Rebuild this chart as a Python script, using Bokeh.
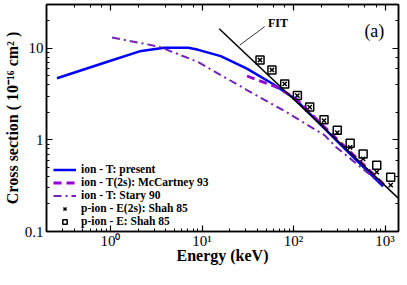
from bokeh.plotting import figure
from bokeh.models import LogAxis, LogTicker, Legend, LegendItem, Label, Range1d, CustomJSTickFormatter
from bokeh.embed import file_html
from bokeh.resources import INLINE

# ---- data ----
present_E = [0.26, 1.0, 2.08, 3.85, 7.1, 9.1, 16, 30.9, 59, 105, 304, 950]
present_S = [4.7, 7.3, 9.25, 10.1, 10.1, 9.6, 8.2, 6.0, 4.1, 2.77, 0.95, 0.31]

mccartney_E = [31, 64.5, 105, 200, 400, 700, 1000]
mccartney_S = [4.97, 3.78, 2.85, 1.5, 0.77, 0.45, 0.315]

stary_E = [1.04, 3.4, 9.1, 30.9, 82, 219, 292, 476, 843]
stary_S = [13.1, 10.4, 7.05, 3.5, 2.03, 1.12, 0.83, 0.56, 0.35]

fit_E = [15.4, 1400]
fit_S = [16.3, 0.23]

shah_E = [43, 58, 80, 110, 150, 215, 300, 415, 575, 810, 1150]
shah_total_S = [7.44, 5.79, 4.08, 3.04, 2.28, 1.66, 1.27, 0.92, 0.70, 0.53, 0.39]
shah_2s_S = [7.44, 5.79, 4.08, 3.04, 2.28, 1.62, 1.2, 0.83, 0.62, 0.445, 0.32]

x_tick_values = [1, 10, 100, 1000]
x_tick_labels = ["10\u2070", "10\u00b9", "10\u00b2", "10\u00b3"]
y_tick_values = [0.1, 1, 10]
y_tick_labels = ["0.1", "1", "10"]

legend_labels = ["ion - T: present", "ion - T(2s): McCartney 93", "ion - T: Stary 90",
                 "p-ion - E(2s): Shah 85", "p-ion - E: Shah 85"]

SERIF = "Liberation Serif"
BLUE = "#0000ff"
VIOLET = "#9400d3"
INDIGO = "#7221bc"

p = figure(frame_width=352, frame_height=227, x_axis_type="log", y_axis_type="log",
           x_range=Range1d(0.2, 1400), y_range=Range1d(0.1, 30),
           output_backend="svg", toolbar_location=None,
           min_border_left=36, min_border_right=0, min_border_top=0, min_border_bottom=20)
p.grid.visible = False
p.outline_line_color = "black"
p.outline_line_width = 1.5
p.background_fill_color = "white"
p.border_fill_color = "white"

for ax in (p.xaxis[0], p.yaxis[0]):
    ax.major_tick_in = 6
    ax.major_tick_out = 0
    ax.minor_tick_in = 3
    ax.minor_tick_out = 0
    ax.axis_line_width = 1.5
    ax.major_tick_line_width = 1.2
    ax.minor_tick_line_width = 1
    ax.major_label_text_font = SERIF
    ax.major_label_text_font_size = "15px"
    ax.major_label_text_color = "black"
    ax.axis_label_text_font = SERIF
    ax.axis_label_text_font_style = "bold"
    ax.axis_label_text_font_size = "16px"
    ax.axis_label_text_color = "black"

p.xaxis[0].major_label_standoff = 1
p.xaxis[0].axis_label_standoff = -5
p.yaxis[0].major_label_standoff = 3
p.yaxis[0].axis_label_standoff = 1

p.xaxis[0].major_label_overrides = dict(zip(x_tick_values, x_tick_labels))
p.yaxis[0].major_label_overrides = dict(zip(y_tick_values, y_tick_labels))
p.xaxis[0].axis_label = "Energy (keV)"
p.yaxis[0].axis_label = "Cross section ( 10\u207b\u00b9\u2076 cm\u00b2 )"

# mirrored tick axes (no labels)
for loc in ("above", "right"):
    ax = LogAxis(ticker=LogTicker(), formatter=CustomJSTickFormatter(code="return ' '"))
    ax.major_tick_in = 6
    ax.major_tick_out = 0
    ax.minor_tick_in = 3
    ax.minor_tick_out = 0
    ax.axis_line_width = 1.5
    ax.major_tick_line_width = 1.2
    ax.minor_tick_line_width = 1
    ax.major_label_text_font_size = "1px"
    ax.major_label_standoff = 0
    ax.axis_label_standoff = 0
    p.add_layout(ax, loc)

r_present = p.line(present_E, present_S, line_color=BLUE, line_width=2.5)
r_mcc = p.line(mccartney_E, mccartney_S, line_color=VIOLET, line_width=2.8, line_dash="8 5")
r_stary = p.line(stary_E, stary_S, line_color=INDIGO, line_width=2, line_dash="8 4 2 4")
p.line(fit_E, fit_S, line_color="black", line_width=1.5)
r_sq = p.scatter(shah_E, shah_total_S, marker="square", size=8, fill_color=None,
                 line_color="black", line_width=1.5)
r_x = p.scatter(shah_E, shah_2s_S, marker="x", size=6, line_color="black", line_width=1.5)

# annotations
fit_label_pos = (67.6, 18.9)
fit_leader = ([48.3, 25.8], [17.2, 10.8])
panel_label_pos = (763, 15.5)
p.line(fit_leader[0], fit_leader[1], line_color="black", line_width=0.8)
p.add_layout(Label(x=fit_label_pos[0], y=fit_label_pos[1], text="FIT", text_font=SERIF,
                   text_font_style="bold", text_font_size="12px", text_align="center",
                   text_baseline="middle", text_color="black"))
p.add_layout(Label(x=panel_label_pos[0], y=panel_label_pos[1], text="(a)", text_font=SERIF,
                   text_font_size="18px", text_align="center", text_baseline="middle",
                   text_color="black"))

legend = Legend(items=[LegendItem(label=l, renderers=[r]) for l, r in
                       zip(legend_labels, [r_present, r_mcc, r_stary, r_x, r_sq])],
                location=(7, 4))
legend.label_text_font = SERIF
legend.label_text_font_style = "bold"
legend.label_text_font_size = "11.5px"
legend.label_text_color = "black"
legend.glyph_width = 23
legend.glyph_height = 11
legend.label_height = 11
legend.label_standoff = 5
legend.spacing = 1
legend.padding = 3
legend.margin = 0
legend.border_line_color = None
legend.background_fill_alpha = 0
p.add_layout(legend, "center")

open("out.html", "w").write(file_html(p, INLINE))
